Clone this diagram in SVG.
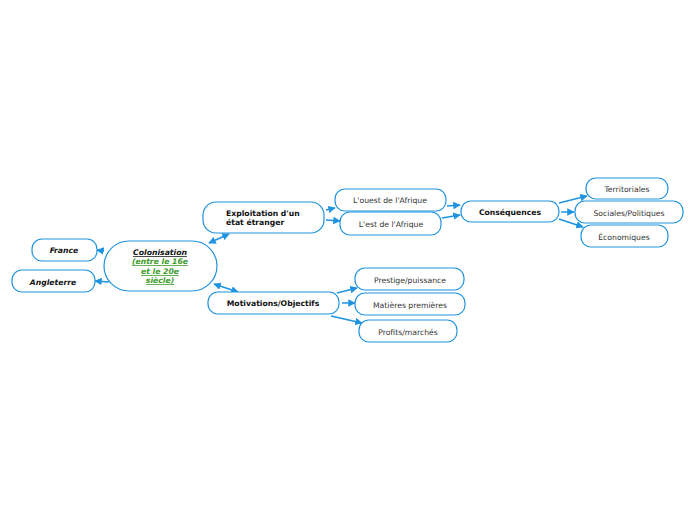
<svg xmlns="http://www.w3.org/2000/svg" width="696" height="520" viewBox="0 0 696 520">
<defs>
<style>
.n{fill:#fff;stroke:#1f93e0;stroke-width:1.2}
.t{font-family:"DejaVu Sans",Verdana,sans-serif;font-size:7.7px;fill:#333;text-anchor:middle}
.s{text-anchor:start}
.b{font-weight:bold;fill:#111}
.i{font-style:italic}
.g{fill:#3a9a2a;text-decoration:underline}
.c line{stroke:#1f93e0;stroke-width:1.5}
</style>
<marker id="a" viewBox="0 0 10 10" refX="9" refY="5" markerWidth="5" markerHeight="5" orient="auto-start-reverse"><path d="M0,0L10,5L0,10z" fill="#1f93e0"/></marker>
</defs>
<rect width="696" height="520" fill="#fff"/>
<g class="c">
<line x1="104" y1="251" x2="97" y2="250" marker-end="url(#a)"/>
<line x1="109" y1="282" x2="95" y2="281" marker-end="url(#a)"/>
<line x1="209" y1="243" x2="229" y2="234" marker-start="url(#a)" marker-end="url(#a)"/>
<line x1="214" y1="284" x2="238" y2="292" marker-start="url(#a)" marker-end="url(#a)"/>
<line x1="326" y1="210" x2="335" y2="208" marker-end="url(#a)"/>
<line x1="326" y1="220" x2="340" y2="221" marker-end="url(#a)"/>
<line x1="447" y1="206" x2="460" y2="205" marker-end="url(#a)"/>
<line x1="442" y1="218" x2="460" y2="215" marker-end="url(#a)"/>
<line x1="559" y1="203" x2="587" y2="196" marker-end="url(#a)"/>
<line x1="561" y1="212" x2="574" y2="212" marker-end="url(#a)"/>
<line x1="559" y1="219" x2="583" y2="227" marker-end="url(#a)"/>
<line x1="337" y1="293" x2="357" y2="288" marker-end="url(#a)"/>
<line x1="342" y1="303" x2="355" y2="303" marker-end="url(#a)"/>
<line x1="331" y1="316" x2="362" y2="323" marker-end="url(#a)"/>
</g>
<g id="colonisation"><rect class="n" x="104" y="241" width="113" height="50" rx="25"/>
<text class="t b i" x="160" y="255"><tspan text-decoration="underline">Colonisation </tspan></text>
<text class="t b i g" x="160" y="264">(entre le 16e</text>
<text class="t b i g" x="160" y="274">et le 20e </text>
<text class="t b i g" x="160" y="283">siècle)</text></g>
<g id="france"><rect class="n" x="32" y="239" width="65" height="22" rx="10"/><text class="t b i" x="64" y="253">France</text></g>
<g id="angleterre"><rect class="n" x="12" y="270" width="83" height="22" rx="10"/><text class="t b i" x="53" y="285">Angleterre</text></g>
<g id="exploitation"><rect class="n" x="203" y="202" width="121" height="31" rx="13"/>
<text class="t b s" x="226" y="216">Exploitation d'un</text>
<text class="t b s" x="226" y="225">état étranger</text></g>
<g id="motivations"><rect class="n" x="208" y="292" width="131" height="22" rx="10"/><text class="t b" x="273" y="306">Motivations/Objectifs</text></g>
<g id="ouest"><rect class="n" x="335" y="189" width="111" height="22" rx="10"/><text class="t" x="390" y="203">L'ouest de l'Afrique</text></g>
<g id="est"><rect class="n" x="340" y="212" width="101" height="23" rx="10"/><text class="t" x="391" y="227">L'est de l'Afrique</text></g>
<g id="consequences"><rect class="n" x="461" y="201" width="98" height="21" rx="10"/><text class="t b" x="510" y="215">Conséquences</text></g>
<g id="territoriales"><rect class="n" x="586" y="178" width="82" height="21" rx="10"/><text class="t" x="627" y="192">Territoriales</text></g>
<g id="sociales"><rect class="n" x="575" y="201" width="108" height="22" rx="10"/><text class="t" x="629" y="216">Sociales/Politiques</text></g>
<g id="economiques"><rect class="n" x="581" y="225" width="87" height="22" rx="10"/><text class="t" x="624" y="240">Économiques</text></g>
<g id="prestige"><rect class="n" x="355" y="268" width="109" height="22" rx="10"/><text class="t" x="410" y="283">Prestige/puissance</text></g>
<g id="matieres"><rect class="n" x="355" y="293" width="110" height="22" rx="10"/><text class="t" x="410" y="308">Matières premières</text></g>
<g id="profits"><rect class="n" x="359" y="320" width="98" height="22" rx="10"/><text class="t" x="408" y="335">Profits/marchés</text></g>
</svg>
